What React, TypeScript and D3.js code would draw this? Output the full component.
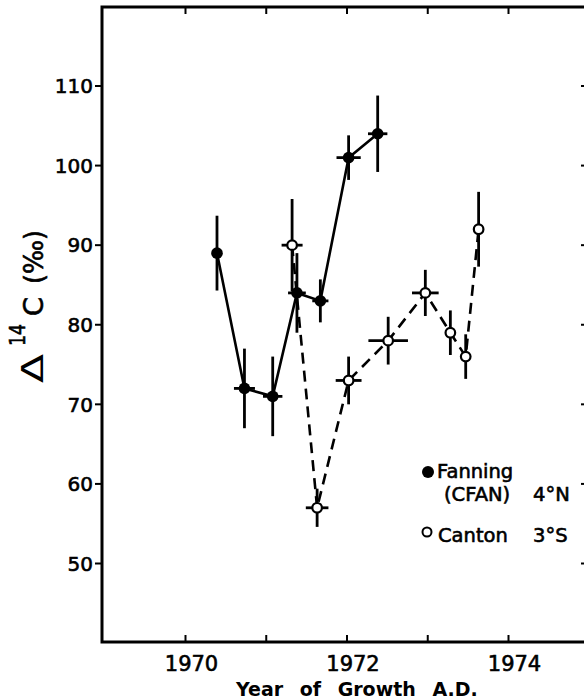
import React from "react";
import * as d3 from "d3";

// Fanning (CFAN) 4°N — filled circles, solid line
const fanningYear = [1970.39, 1970.73, 1971.08, 1971.38, 1971.67, 1972.02, 1972.38];
const fanningD14C = [89, 72, 71, 84, 83, 101, 104];
const fanningErrY = [4.7, 5, 5, 5, 2.7, 2.8, 4.8];
const fanningErrX = [0, 0.13, 0.12, 0.11, 0.1, 0.15, 0.12];

// Canton 3°S — open circles, dashed line
const cantonYear = [1971.32, 1971.63, 1972.02, 1972.51, 1972.97, 1973.28, 1973.47, 1973.63];
const cantonD14C = [90, 57, 73, 78, 84, 79, 76, 92];
const cantonErrY = [5.8, 2.4, 3, 3, 2.9, 2.8, 2.8, 4.7];
const cantonErrX = [0.13, 0.14, 0.16, 0.245, 0.165, 0, 0, 0];

const yTicks = [50, 60, 70, 80, 90, 100, 110];
const xTicks = [1970, 1971, 1972, 1973, 1974];
const xLabels = [1970, 1972, 1974];

const FONT = "'DejaVu Sans', sans-serif";
const heavy = { stroke: "#000", strokeWidth: 0.6 };

export default function App() {
  const W = 584, H = 700;
  const left = 102, right = 588, top = 7, bottom = 642;
  const x = d3.scaleLinear().domain([1970, 1974]).range([185.5, 508.5]);
  const y = d3.scaleLinear().domain([50, 110]).range([563.5, 86]);

  const fPts = fanningYear.map((yr, i) => [x(yr), y(fanningD14C[i])] as [number, number]);
  const cPts = cantonYear.map((yr, i) => [x(yr), y(cantonD14C[i])] as [number, number]);
  const path = d3.line();

  const errBars = (years: number[], vals: number[], ey: number[], ex: number[], key: string) =>
    years.map((yr, i) => (
      <g key={key + i} stroke="#000" strokeWidth={2.8}>
        <line x1={x(yr)} x2={x(yr)} y1={y(vals[i] + ey[i])} y2={y(vals[i] - ey[i])} />
        {ex[i] > 0 && (
          <line x1={x(yr - ex[i])} x2={x(yr + ex[i])} y1={y(vals[i])} y2={y(vals[i])} />
        )}
      </g>
    ));

  return (
    <svg width={W} height={H} style={{ position: "absolute", left: 0, top: 0, background: "#fff" }}>
      <rect x={0} y={0} width={W} height={H} fill="#fff" />
      {/* frame */}
      <rect x={left} y={top} width={right - left} height={bottom - top} fill="none" stroke="#000" strokeWidth={3} />
      {/* y ticks left (outward) and right (inward) */}
      {yTicks.map((t) => (
        <g key={"yt" + t}>
          <line x1={left - 7} x2={left} y1={y(t)} y2={y(t)} stroke="#000" strokeWidth={2} />
          <line x1={right - 7} x2={right} y1={y(t)} y2={y(t)} stroke="#000" strokeWidth={2} />
          <text x={93} y={y(t)} dy="0.36em" textAnchor="end" fontFamily={FONT} fontSize={20} {...heavy}>
            {t}
          </text>
        </g>
      ))}
      {/* x ticks top and bottom (inward) */}
      {xTicks.map((t) => (
        <g key={"xt" + t}>
          <line x1={x(t)} x2={x(t)} y1={bottom} y2={bottom - 7} stroke="#000" strokeWidth={2} />
          <line x1={x(t)} x2={x(t)} y1={top} y2={top + 7} stroke="#000" strokeWidth={2} />
        </g>
      ))}
      {xLabels.map((t) => (
        <text key={"xl" + t} x={x(t) + 6} y={671} textAnchor="middle" fontFamily={FONT} fontSize={21} {...heavy}>
          {t}
        </text>
      ))}
      {/* axis titles */}
      <text x={236} y={696} fontFamily={FONT} fontSize={19} fontWeight="bold" wordSpacing={10}>
        Year of Growth A.D.
      </text>
      <g transform="translate(43,0) rotate(-90)" fontFamily={FONT}>
        <text x={-383} y={0} fontSize={31} textLength={29} lengthAdjust="spacingAndGlyphs">Δ</text>
        <text x={-346} y={-18} fontSize={21} textLength={22} lengthAdjust="spacingAndGlyphs" {...heavy}>14</text>
        <text x={-316} y={0} fontSize={27} {...heavy}>C</text>
        <text x={-284} y={0} fontSize={27} textLength={54} lengthAdjust="spacingAndGlyphs" {...heavy}>(‰)</text>
      </g>
      {/* series lines */}
      <path d={path(fPts) || ""} fill="none" stroke="#000" strokeWidth={2.6} />
      <path d={path(cPts) || ""} fill="none" stroke="#000" strokeWidth={2.6} strokeDasharray="11,7" />
      {/* error bars */}
      {errBars(fanningYear, fanningD14C, fanningErrY, fanningErrX, "fe")}
      {errBars(cantonYear, cantonD14C, cantonErrY, cantonErrX, "ce")}
      {/* markers */}
      {fPts.map((p, i) => (
        <circle key={"fm" + i} cx={p[0]} cy={p[1]} r={5.8} fill="#000" />
      ))}
      {cPts.map((p, i) => (
        <circle key={"cm" + i} cx={p[0]} cy={p[1]} r={4.8} fill="#fff" stroke="#000" strokeWidth={2.2} />
      ))}
      {/* legend */}
      <circle cx={428} cy={472} r={6} fill="#000" />
      <text x={437} y={478} fontFamily={FONT} fontSize={19.5} {...heavy}>Fanning</text>
      <text x={444} y={501} fontFamily={FONT} fontSize={19.5} {...heavy}>(CFAN)</text>
      <text x={533} y={501} fontFamily={FONT} fontSize={19.5} {...heavy}>4°N</text>
      <circle cx={427} cy={532} r={4.5} fill="#fff" stroke="#000" strokeWidth={2} />
      <text x={438} y={542} fontFamily={FONT} fontSize={19.5} {...heavy}>Canton</text>
      <text x={533} y={542} fontFamily={FONT} fontSize={19.5} {...heavy}>3°S</text>
    </svg>
  );
}
